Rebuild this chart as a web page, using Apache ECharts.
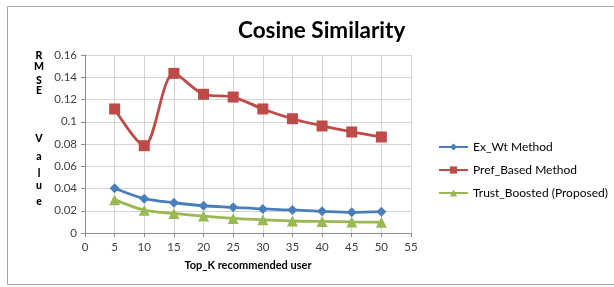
<!DOCTYPE html>
<html><head><meta charset="utf-8">
<script src="https://cdn.jsdelivr.net/npm/echarts@6/dist/echarts.min.js"></script>
<style>html,body{margin:0;padding:0;background:#fff}#c{width:614px;height:287px}</style>
</head><body><div id="c"></div>
<script>
const topK = [5,10,15,20,25,30,35,40,45,50];
const exWt = [0.0402,0.0308,0.0272,0.0245,0.0231,0.0216,0.0207,0.0195,0.0186,0.0192];
const prefBased = [0.1115,0.0785,0.1435,0.1247,0.1222,0.1115,0.1027,0.0962,0.0908,0.0863];
const trustBoosted = [0.0300,0.0205,0.0176,0.0152,0.0131,0.0119,0.0108,0.0104,0.0100,0.0097];
const seriesNames = ['Ex_Wt Method','Pref_Based Method','Trust_Boosted (Proposed)'];
const yLetters = ['R','M','S','E','V','a','l','u','e'];
const yLetterPos = [56,67,81,91,139,157,174,186,202];

const F = 'Lato, "Liberation Sans", sans-serif';
const pair = (ys) => topK.map((x,i)=>[x,ys[i]]);
const chart = echarts.init(document.getElementById('c'));
const graphics = [{type:'rect',shape:{x:7.5,y:6.5,width:620,height:278},style:{fill:'none',stroke:'#a6a6a6',lineWidth:1},silent:true}];
yLetters.forEach((t,i)=>graphics.push({type:'text',x:39,y:yLetterPos[i],style:{text:t,font:'900 10.5px '+F,fill:'#000',textAlign:'center',textVerticalAlign:'middle'}}));
chart.setOption({
  animation:false,
  title:{text:'Cosine Similarity',left:233,top:14,textStyle:{fontFamily:F,fontWeight:'bold',fontSize:22.5,color:'#000'}},
  graphic:graphics,
  grid:{left:85,top:55,width:326,height:178},
  legend:{orient:'vertical',left:433,top:136,itemWidth:29,itemHeight:9,itemGap:11,
    textStyle:{fontFamily:F,fontSize:12,color:'#000'},data:seriesNames},
  xAxis:{type:'value',min:0,max:55,interval:5,
    name:'Top_K recommended user',nameLocation:'middle',nameGap:27,
    nameTextStyle:{fontFamily:F,fontWeight:'bold',fontSize:11,color:'#000'},
    axisLine:{lineStyle:{color:'#8c8c8c'}},axisTick:{show:true,length:4,lineStyle:{color:'#8c8c8c'}},
    axisLabel:{fontFamily:F,fontSize:11.5,color:'#404040',margin:8},
    splitLine:{show:true,lineStyle:{color:'#d4d4d4'}}},
  yAxis:{type:'value',min:0,max:0.16,interval:0.02,
    axisLine:{show:true,lineStyle:{color:'#8c8c8c'}},axisTick:{show:true,length:4,lineStyle:{color:'#8c8c8c'}},
    axisLabel:{fontFamily:F,fontSize:11.5,color:'#404040',margin:8},
    splitLine:{show:true,lineStyle:{color:'#d4d4d4'}}},
  series:[
    {name:seriesNames[0],type:'line',data:pair(exWt),smooth:0.3,symbol:'diamond',symbolSize:10,
      itemStyle:{color:'#4a7ebb'},lineStyle:{color:'#4a7ebb',width:2.8}},
    {name:seriesNames[1],type:'line',data:pair(prefBased),smooth:0.3,symbol:'rect',symbolSize:11,
      itemStyle:{color:'#be4b48'},lineStyle:{color:'#be4b48',width:2.8}},
    {name:seriesNames[2],type:'line',data:pair(trustBoosted),smooth:0.3,symbol:'triangle',symbolSize:11,
      itemStyle:{color:'#98b954'},lineStyle:{color:'#98b954',width:2.8}}
  ]
});
</script></body></html>
